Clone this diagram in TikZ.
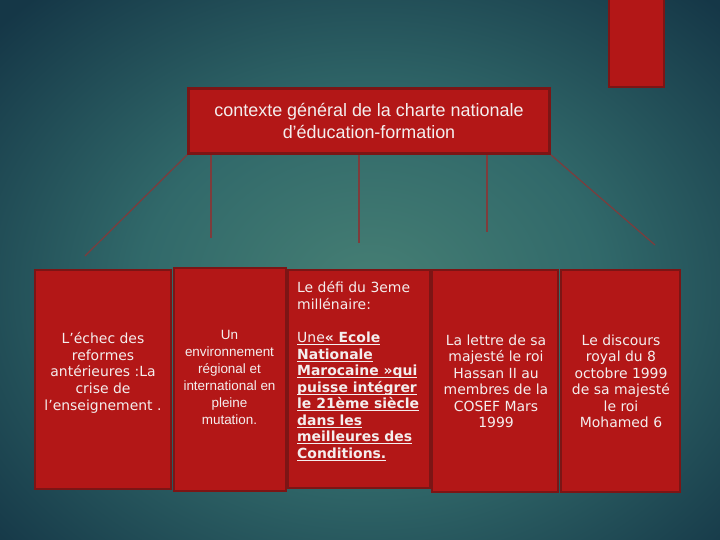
\documentclass[tikz,border=0pt]{standalone}
\usepackage{fontspec}
\setmainfont{DejaVu Sans}
\newfontfamily\arialf{Liberation Sans}
\newcommand\myul[1]{\setbox0\hbox{#1}\rlap{\rule[-2.6bp]{\wd0}{1bp}}\box0}
\definecolor{bgA}{HTML}{467F74}
\definecolor{bgB}{HTML}{31696A}
\definecolor{bgC}{HTML}{153747}
\definecolor{boxfill}{HTML}{B31717}
\definecolor{boxedge}{HTML}{7C1515}
\definecolor{linec}{HTML}{7E3C3C}
\definecolor{txt}{HTML}{F4EEEE}
\pgfdeclareradialshading{bgshade}{\pgfpoint{0bp}{0bp}}{color(0bp)=(bgA); color(12bp)=(bgB); color(26bp)=(bgC); color(50bp)=(bgC)}
\tikzset{
  redbox/.style={draw=boxedge, fill=boxfill, line width=2.6bp, inner sep=0pt},
  conn/.style={draw=linec, line width=1.2bp},
  boxtext/.style={text=txt, inner sep=0pt, font=\fontsize{14}{16.6}\selectfont},
}
\begin{document}
\begin{tikzpicture}[x=1bp,y=-1bp]
\useasboundingbox (0,0) rectangle (720,540);
\begin{scope}
\clip (0,0) rectangle (720,540);
\shade[shading=bgshade] (-110,-90) rectangle (850,670);
\draw[redbox] (609,-5) rectangle (664,87);
\end{scope}

% title
\node[redbox, minimum width=361bp, minimum height=65bp, text=txt, align=center,
      font=\arialf\fontsize{18}{22}\selectfont] (title) at (369,121)
  {contexte général de la charte nationale\\d’éducation-formation};

% connector ends
\coordinate (l1) at (85,256);
\coordinate (v1) at (211,238);
\coordinate (v2) at (359,243);
\coordinate (v3) at (487,232);
\coordinate (r1) at (655,245);
\draw[conn] (title.south west) -- (l1);
\draw[conn] (title.south -| v1) -- (v1);
\draw[conn] (title.south -| v2) -- (v2);
\draw[conn] (title.south -| v3) -- (v3);
\draw[conn] (title.south east) -- (r1);

% boxes
\node[redbox, minimum width=136bp, minimum height=219bp] (b1) at (103,379.5) {};
\node[redbox, minimum width=112bp, minimum height=223bp] (b2) at (230,379.5) {};
\node[redbox, minimum width=142bp, minimum height=218bp] (b3) at (359,379) {};
\node[redbox, minimum width=126bp, minimum height=222bp] (b4) at (495,381) {};
\node[redbox, minimum width=119bp, minimum height=222bp] (b5) at (620.5,381) {};

% texts
\node[boxtext, anchor=north, align=center] (t1) at (103,332.5)
  {L’échec des\\reformes\\antérieures :La\\crise de\\l’enseignement .};
\node[boxtext, anchor=north, align=center, font=\arialf\fontsize{13.5}{17}\selectfont] (t2) at (229.5,330)
  {Un\\environnement\\régional et\\international en\\pleine\\mutation.};
\node[boxtext, anchor=north west, align=left] (t3) at (297,281.5)
  {Le défi du 3eme\\millénaire:\\[16.6bp]
   \myul{Une\textbf{« Ecole}}\\
   \myul{\textbf{Nationale}}\\
   \myul{\textbf{Marocaine »qui}}\\
   \myul{\textbf{puisse intégrer}}\\
   \myul{\textbf{le 21ème siècle}}\\
   \myul{\textbf{dans les}}\\
   \myul{\textbf{meilleures des}}\\
   \myul{\textbf{Conditions.}}};
\node[boxtext, anchor=north, align=center] (t4) at (496,334.4)
  {La lettre de sa\\majesté le roi\\Hassan II au\\membres de la\\COSEF Mars\\1999};
\node[boxtext, anchor=north, align=center] (t5) at (621,334.4)
  {Le discours\\royal du 8\\octobre 1999\\de sa majesté\\le roi\\Mohamed 6};
\end{tikzpicture}
\end{document}
